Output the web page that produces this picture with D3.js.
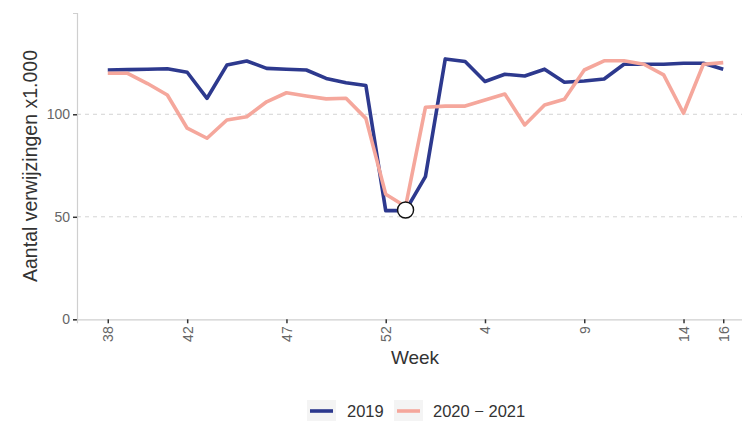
<!DOCTYPE html>
<html>
<head>
<meta charset="utf-8">
<script src="https://cdn.jsdelivr.net/npm/d3@7"></script>
<style>
  body { margin: 0; background: #fff; }
  svg { font-family: "Liberation Sans", Arial, sans-serif; }
</style>
</head>
<body>
<div id="chart"></div>
<script>
// weeks from week 38 (2019/2020) through week 16 of the next year
var weeks = [38,39,40,41,42,43,44,45,46,47,48,49,50,51,52,53,1,2,3,4,5,6,7,8,9,10,11,12,13,14,15,16];
var tickWeeks = [38, 42, 47, 52, 4, 9, 14, 16];
var yTicks = [0, 50, 100];

// referrals x1000
var series2019 = [121.6,121.8,122,122.2,120.5,107.8,124,126,122.4,122,121.6,117.5,115.4,114,53,53,
                  69.6,127,125.7,116,119.5,118.7,122,115.6,116.2,117.2,124.4,124.4,124.4,124.9,124.9,122];
var series2020 = [120,120,115,109.4,93.2,88.3,97.2,98.8,106.1,110.5,108.9,107.5,107.8,98,61,55,
                  103.4,104,104,107,109.9,94.8,104.5,107.3,121.6,126.1,126.1,124.4,119.2,100.5,124.4,125.2];
var seriesNames = ["2019", "2020 \u2212 2021"];
var seriesColors = ["#2d398e", "#f5a79c"];
var markIndex = 15, markValue = 53.3;

var width = 742, height = 421;
var svg = d3.select("#chart").append("svg")
    .attr("width", width)
    .attr("height", height);

// scales (index based, ggplot-like 5% expansion on x)
var x = d3.scaleLinear().domain([-1.55, weeks.length - 1 + 1.55]).range([77, 754]);
var y = d3.scaleLinear().domain([0, 149.4]).range([319.3, 13]);

// grid lines
svg.append("g").selectAll("line")
    .data(yTicks.filter(function(d) { return d > 0; }))
  .enter().append("line")
    .attr("x1", 77).attr("x2", width)
    .attr("y1", function(d) { return y(d); })
    .attr("y2", function(d) { return y(d); })
    .attr("stroke", "#c8c8c8")
    .attr("stroke-dasharray", "4,4")
    .attr("stroke-width", 0.8);

// y axis
var yAxis = svg.append("g")
    .attr("transform", "translate(77,0)")
    .call(d3.axisLeft(y).tickValues(yTicks).tickSize(4).tickPadding(3));
yAxis.select(".domain").attr("stroke", "#cfcfcf").attr("stroke-width", 1.2);
yAxis.selectAll(".tick line").attr("stroke", "#333").attr("stroke-width", 1.5);
yAxis.selectAll(".tick text").attr("fill", "#666").attr("font-size", 14);

// x axis
var tickIdx = tickWeeks.map(function(w, k) {
  // small week numbers belong to the second year
  return k < 4 ? weeks.indexOf(w) : weeks.lastIndexOf(w);
});
var xAxis = svg.append("g")
    .attr("transform", "translate(0,319.3)")
    .call(d3.axisBottom(x).tickValues(tickIdx)
      .tickFormat(function(d) { return weeks[d]; })
      .tickSize(4).tickPadding(3));
xAxis.select(".domain").attr("stroke", "#cfcfcf").attr("stroke-width", 1.2);
xAxis.selectAll(".tick line").attr("stroke", "#333").attr("stroke-width", 1.5);
xAxis.selectAll(".tick text")
    .attr("fill", "#666").attr("font-size", 14)
    .attr("transform", "rotate(-90)")
    .attr("text-anchor", "end")
    .attr("x", -7).attr("y", 0).attr("dy", "0.35em");

// lines
var line = d3.line()
    .x(function(d, i) { return x(i); })
    .y(function(d) { return y(d); });

[series2019, series2020].forEach(function(s, k) {
  svg.append("path")
      .datum(s)
      .attr("fill", "none")
      .attr("stroke", seriesColors[k])
      .attr("stroke-width", 3.6)
      .attr("stroke-linejoin", "round")
      .attr("d", line);
});

// highlighted minimum
svg.append("circle")
    .attr("cx", x(markIndex))
    .attr("cy", y(markValue))
    .attr("r", 8)
    .attr("fill", "#fff")
    .attr("stroke", "#111")
    .attr("stroke-width", 1.4);

// axis titles
svg.append("text")
    .attr("x", 415).attr("y", 364)
    .attr("text-anchor", "middle")
    .attr("font-size", 19)
    .attr("fill", "#333")
    .text("Week");

svg.append("text")
    .attr("transform", "translate(37,166) rotate(-90)")
    .attr("text-anchor", "middle")
    .attr("font-size", 19.5)
    .attr("fill", "#333")
    .text("Aantal verwijzingen x1.000");

// legend
var legendX = [307, 394], legendTextX = [347, 433];
seriesNames.forEach(function(name, k) {
  var g = svg.append("g");
  g.append("rect")
      .attr("x", legendX[k]).attr("y", 400)
      .attr("width", 29).attr("height", 22)
      .attr("fill", "#f4f4f4");
  g.append("line")
      .attr("x1", legendX[k] + 3).attr("x2", legendX[k] + 26)
      .attr("y1", 411).attr("y2", 411)
      .attr("stroke", seriesColors[k])
      .attr("stroke-width", 3.6);
  g.append("text")
      .attr("x", legendTextX[k]).attr("y", 417)
      .attr("font-size", 16.5)
      .attr("fill", "#333")
      .text(name);
});
</script>
</body>
</html>
